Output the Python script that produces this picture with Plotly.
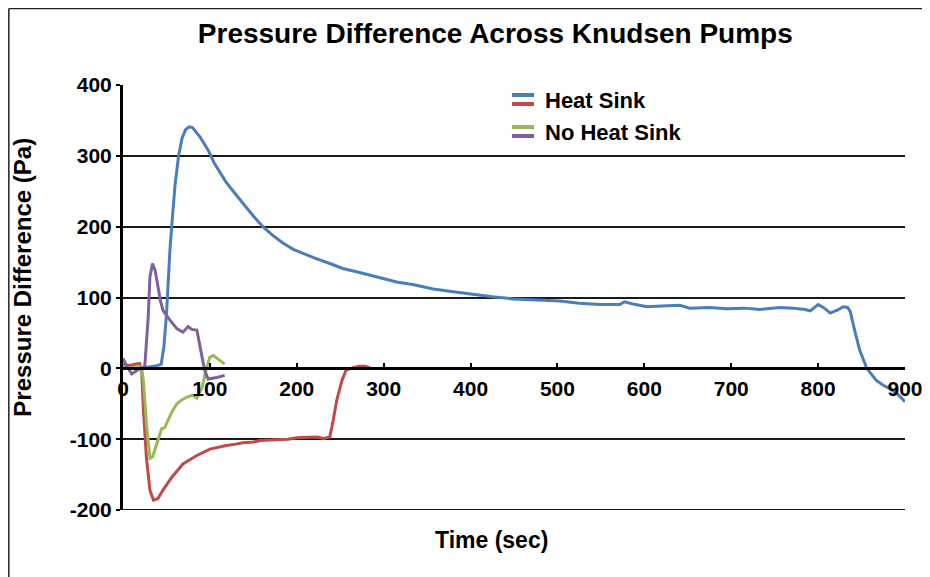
import plotly.graph_objects as go

# Heat Sink run (blue)
hs_time = [0, 10, 20, 30, 40, 44, 47, 50, 52, 54, 56, 60, 64, 68, 72, 76, 80, 84, 89, 94, 98, 105, 112, 118,
           123, 130, 138, 150, 161, 172, 184, 196, 207, 220, 238, 253, 270, 290, 315, 335, 357, 380, 403, 425,
           449, 475, 503, 525, 549, 572, 577, 590, 603, 620, 641, 652, 675, 695, 715, 733, 756, 771, 785, 791,
           800, 806, 814, 822, 829, 834, 837, 842, 848, 856, 862, 867, 875, 883, 892, 900]
hs_dp = [2, 1, 0, 2, 4, 6, 30, 75, 125, 167, 200, 260, 300, 325, 337, 341, 340, 334, 326, 316, 308, 290, 275, 264,
         256, 246, 233, 215, 200, 188, 177, 168, 162, 156, 148, 141, 136, 130, 122, 118, 112, 108, 104, 101,
         98, 97, 95, 92, 90, 90, 94, 90, 87, 88, 89, 85, 86, 84, 85, 83, 86, 85, 83, 81,
         90, 86, 78, 82, 87, 86, 80, 54, 25, 0, -10, -17, -24, -29, -37, -47]

# Heat Sink run (red)
hs2_time = [0, 8, 15, 19, 21.5, 23.4, 27, 31, 35, 40, 46, 56, 69, 85, 100, 110, 119, 130, 138, 150, 158, 170,
            177, 190, 200, 212, 223, 231, 238, 242, 246, 252, 257, 265, 272, 279, 284]
hs2_dp = [5, 4, 6, 7, -3, -56, -127, -172, -186, -184, -172, -154, -135, -123, -114, -111, -109, -107, -105,
          -104, -102, -101, -101, -100, -98, -98, -97, -99, -97, -73, -45, -17, -2, 1, 3, 3, 1]

# No Heat Sink run (green)
nhs_time = [0, 10, 18, 21, 23.4, 27, 31, 34, 39, 44.5, 48, 52, 56, 62, 67, 73, 80, 85, 88, 91, 96, 100, 104,
            108, 117]
nhs_dp = [2, 1, 3, 2, -17, -78, -127, -125, -106, -85, -84, -72, -62, -50, -45, -41, -38, -42, -35, -27, 0,
          16, 18, 14, 6]

# No Heat Sink run (purple)
nhs2_time = [0, 4, 10, 16, 20, 25, 29, 31, 34, 37, 40, 43, 46, 54, 62, 69, 75, 79, 85, 89, 94, 98, 103, 108, 117]
nhs2_dp = [14, 4, -8, -3, 0, 2, 72, 129, 148, 138, 115, 96, 82, 68, 56, 51, 59, 55, 54, 30, -3, -15, -14, -13,
           -10]

x_ticks = [0, 100, 200, 300, 400, 500, 600, 700, 800, 900]
y_ticks = [-200, -100, 0, 100, 200, 300, 400]

BLUE = "#4A7EBB"
RED = "#BE4B48"
GREEN = "#98B954"
PURPLE = "#7D60A0"
FONT = "Arial, Liberation Sans, sans-serif"


def bold(size):
    return dict(family = FONT, size = size, color = "black", weight = "bold")


fig = go.Figure()
series = [(hs_time, hs_dp, BLUE), (hs2_time, hs2_dp, RED),
          (nhs_time, nhs_dp, GREEN), (nhs2_time, nhs2_dp, PURPLE)]
for t, dp, colour in series:
    fig.add_trace(go.Scatter(x = t, y = dp, mode = "lines", line = dict(color = colour, width = 3),
                             showlegend = False, hoverinfo = "x+y"))

fig.update_xaxes(range = [0, 900], tickvals = x_ticks, ticktext = [str(v) for v in x_ticks],
                 showgrid = False, zeroline = False,
                 showline = True, linecolor = "black", linewidth = 3, anchor = "free", position = 1 / 3,
                 ticks = "inside", ticklen = 4, tickwidth = 2, tickcolor = "black", tickfont = bold(21))
fig.update_yaxes(range = [-200, 400], tickvals = y_ticks, ticktext = [str(v) for v in y_ticks],
                 showgrid = True, gridcolor = "#1a1a1a", gridwidth = 2,
                 zeroline = False, showline = True, linecolor = "black", linewidth = 3,
                 ticks = "outside", ticklen = 4, tickwidth = 2, tickcolor = "black", tickfont = bold(21))

# bottom gridline (plotly drops the one sitting on the plot edge)
fig.add_shape(type = "line", xref = "paper", yref = "y", x0 = 0, x1 = 1, y0 = y_ticks[0], y1 = y_ticks[0],
              line = dict(color = "#1a1a1a", width = 2), layer = "below")

# legend drawn by hand: two swatches per entry
swatches = [(0.9765, BLUE), (0.9553, RED), (0.9012, GREEN), (0.880, PURPLE)]
for y, colour in swatches:
    fig.add_shape(type = "line", xref = "paper", yref = "paper", x0 = 0.4974, x1 = 0.5256, y0 = y, y1 = y,
                  line = dict(color = colour, width = 4))
for y, label in [(0.9647, "Heat Sink"), (0.8894, "No Heat Sink")]:
    fig.add_annotation(x = 0.537, y = y, xref = "paper", yref = "paper", text = label, showarrow = False,
                       xanchor = "left", yanchor = "middle", font = bold(22))

# axis titles
fig.add_annotation(x = 0.471, y = -0.0706, xref = "paper", yref = "paper", text = "Time (sec)", showarrow = False,
                   xanchor = "center", yanchor = "middle", font = bold(23))
fig.add_annotation(x = -0.129, y = 0.547, xref = "paper", yref = "paper", text = "Pressure Difference (Pa)",
                   showarrow = False, textangle = -90, xanchor = "center", yanchor = "middle", font = bold(24))

# outer frame (left, top, right)
for x0, y0, x1, y1 in [(-0.146, -0.2, -0.146, 1.18), (-0.146, 1.18, 1.029, 1.18), (1.029, 1.18, 1.029, -0.2)]:
    fig.add_shape(type = "line", xref = "paper", yref = "paper", x0 = x0, y0 = y0, x1 = x1, y1 = y1,
                  line = dict(color = "#222222", width = 1.5))

fig.update_layout(width = 930, height = 577, plot_bgcolor = "white", paper_bgcolor = "white",
                  margin = dict(l = 115, r = 33, t = 77, b = 75),
                  title = dict(text = "Pressure Difference Across Knudsen Pumps", x = 0.524, y = 0.957,
                               xanchor = "center", yanchor = "middle", font = bold(28)))

fig.write_html("out.html")
